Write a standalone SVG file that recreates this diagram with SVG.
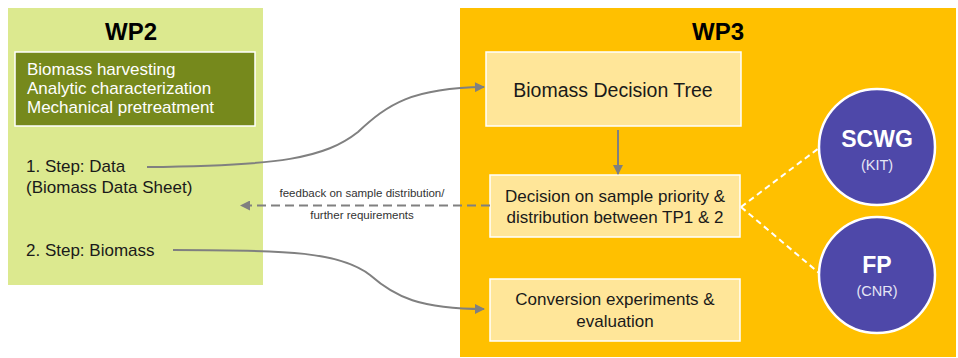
<svg xmlns="http://www.w3.org/2000/svg" width="958" height="358" viewBox="0 0 958 358">
  <style>
    text { font-family: "Liberation Sans", Arial, sans-serif; }
    .title { font-size: 24px; font-weight: bold; fill: #000; text-anchor: middle; }
    .dark { font-size: 17px; fill: #1a1a1a; }
    .mid { text-anchor: middle; }
    .light { font-size: 17px; fill: #ffffff; }
    .box { fill: #ffe699; stroke: #ffffff; stroke-width: 1.5; }
    .circle { fill: #4e48a9; stroke: #ffffff; stroke-width: 2.5; }
    .big { font-size: 23px; font-weight: bold; fill: #ffffff; text-anchor: middle; }
    .small { font-size: 14.5px; fill: #e6e6f5; text-anchor: middle; }
    .note { font-size: 11.5px; fill: #333; text-anchor: middle; }
    .flow { fill: none; stroke: #808080; stroke-width: 2; }
    .dash { fill: none; stroke: #808080; stroke-width: 2; stroke-dasharray: 9 5; }
    .link { fill: none; stroke: #ffffff; stroke-width: 2; stroke-dasharray: 6 4; }
  </style>
  <defs>
    <marker id="arrow" viewBox="0 0 10 10" refX="9" refY="5" markerWidth="6" markerHeight="5" orient="auto" markerUnits="strokeWidth">
      <path d="M0,0 L10,5 L0,10 z" fill="#808080"/>
    </marker>
  </defs>

  <rect width="958" height="358" fill="#ffffff"/>

  <!-- WP2 panel -->
  <g id="wp2">
    <rect x="8" y="8" width="255" height="277" fill="#dce98f"/>
    <text class="title" x="131" y="40">WP2</text>
  </g>
  <g id="wp2-tasks">
    <rect x="15" y="52" width="240" height="74" fill="#76891c" stroke="#ffffff" stroke-width="1.5"/>
    <text class="light" x="27" y="75">Biomass harvesting</text>
    <text class="light" x="27" y="94">Analytic characterization</text>
    <text class="light" x="27" y="113">Mechanical pretreatment</text>
  </g>
  <g id="step-data">
    <text class="dark" x="26" y="172">1. Step: Data</text>
    <text class="dark" x="26" y="193">(Biomass Data Sheet)</text>
  </g>
  <g id="step-biomass">
    <text class="dark" x="26" y="256">2. Step: Biomass</text>
  </g>

  <!-- WP3 panel -->
  <g id="wp3">
    <rect x="460" y="8" width="496" height="349" fill="#ffc000"/>
    <text class="title" x="718" y="40">WP3</text>
  </g>
  <g id="decision-tree">
    <rect class="box" x="486" y="52" width="255" height="74"/>
    <text class="dark mid" x="613" y="97" style="font-size:19.5px">Biomass Decision Tree</text>
  </g>
  <g id="sample-priority">
    <rect class="box" x="490" y="175" width="250" height="62"/>
    <text class="dark mid" x="615" y="202">Decision on sample priority &amp;</text>
    <text class="dark mid" x="615" y="223">distribution between TP1 &amp; 2</text>
  </g>
  <g id="conversion">
    <rect class="box" x="490" y="279" width="250" height="62"/>
    <text class="dark mid" x="615" y="305">Conversion experiments &amp;</text>
    <text class="dark mid" x="615" y="327">evaluation</text>
  </g>
  <g id="scwg">
    <circle class="circle" cx="877" cy="147" r="58"/>
    <text class="big" x="877" y="147">SCWG</text>
    <text class="small" x="877" y="170">(KIT)</text>
  </g>
  <g id="fp">
    <circle class="circle" cx="877" cy="275" r="58"/>
    <text class="big" x="877" y="273">FP</text>
    <text class="small" x="877" y="296">(CNR)</text>
  </g>

  <!-- connectors -->
  <g id="connectors">
    <path class="flow" d="M147,167 C280,166 325,158 358,132 C388,104 412,88 484,87" marker-end="url(#arrow)"/>
    <path class="flow" d="M173,250 C290,250 340,252 370,275 C395,297 420,309 484,309" marker-end="url(#arrow)"/>
    <path class="flow" d="M618,130 L618,174" marker-end="url(#arrow)"/>
    <path class="dash" d="M490,205.5 L241,205.5" marker-end="url(#arrow)"/>
    <path class="link" d="M741,207 L819,148"/>
    <path class="link" d="M741,207 L819,273"/>
    <text class="note" x="362" y="197">feedback on sample distribution/</text>
    <text class="note" x="362" y="219">further requirements</text>
  </g>
</svg>
